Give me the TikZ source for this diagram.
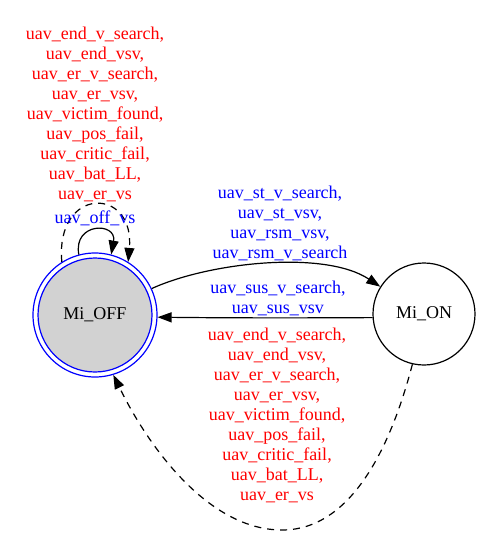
\documentclass[tikz,border=0pt]{standalone}
\usepackage{fontspec}
\setmainfont{Liberation Serif}
\usetikzlibrary{arrows.meta}
\begin{document}
\begin{tikzpicture}[x=1pt,y=-1pt,
  every node/.style={font=\fontsize{18}{20}\selectfont, inner sep=0pt},
  edge/.style={line width=1.2pt, -{Triangle[length=14pt,width=10pt]}},
  dashedge/.style={edge, dash pattern=on 7pt off 6pt},
  lbl/.style={align=center},
  redlbl/.style={lbl, text=red},
  bluelbl/.style={lbl, text=blue},
  offstate/.style={circle, draw=blue, line width=1.2pt, fill=white, minimum size=124pt},
  onstate/.style={circle, draw=black, line width=1.2pt, minimum size=102pt}
]
\useasboundingbox (0,0) rectangle (481,536);
% states
\node[offstate] (off) at (95,315) {};
\node[circle, draw=blue, line width=1.2pt, fill=lightgray!70, minimum size=114pt] (offin) at (95,315) {};
\node (offtxt) at (95,315) {Mi\_OFF};
\node[onstate] (on) at (424,314) {Mi\_ON};
% self loops
\draw[edge] (off.105) .. controls (73,222) and (117,222) .. (off.75);
\draw[dashedge] (off.122) .. controls (55,186) and (135,186) .. (off.58);
% OFF -> ON
\draw[edge] (off.25) .. controls (210,262) and (325,250) .. (on.148.5);
% ON -> OFF
\draw[edge] (on.184) .. controls (300,318) and (230,318) .. (off.-2);
% ON -> OFF dashed
\coordinate (bot) at (282,530);
\draw[dashedge] (on.-103) .. controls (390,450) and (350,530) .. (bot)
  .. controls (210,530) and (150,450) .. (off.-73);
% labels
\node[redlbl] (l1) at (95,114) {uav\_end\_v\_search,\\uav\_end\_vsv,\\uav\_er\_v\_search,\\uav\_er\_vsv,\\uav\_victim\_found,\\uav\_pos\_fail,\\uav\_critic\_fail,\\uav\_bat\_LL,\\uav\_er\_vs};
\node[bluelbl] (l2) at (95,218) {uav\_off\_vs};
\node[bluelbl] (l3) at (280,223) {uav\_st\_v\_search,\\uav\_st\_vsv,\\uav\_rsm\_vsv,\\uav\_rsm\_v\_search};
\node[bluelbl] (l4) at (278,298.5) {uav\_sus\_v\_search,\\uav\_sus\_vsv};
\node[redlbl] (l5) at (277,415) {uav\_end\_v\_search,\\uav\_end\_vsv,\\uav\_er\_v\_search,\\uav\_er\_vsv,\\uav\_victim\_found,\\uav\_pos\_fail,\\uav\_critic\_fail,\\uav\_bat\_LL,\\uav\_er\_vs};
\end{tikzpicture}
\end{document}
